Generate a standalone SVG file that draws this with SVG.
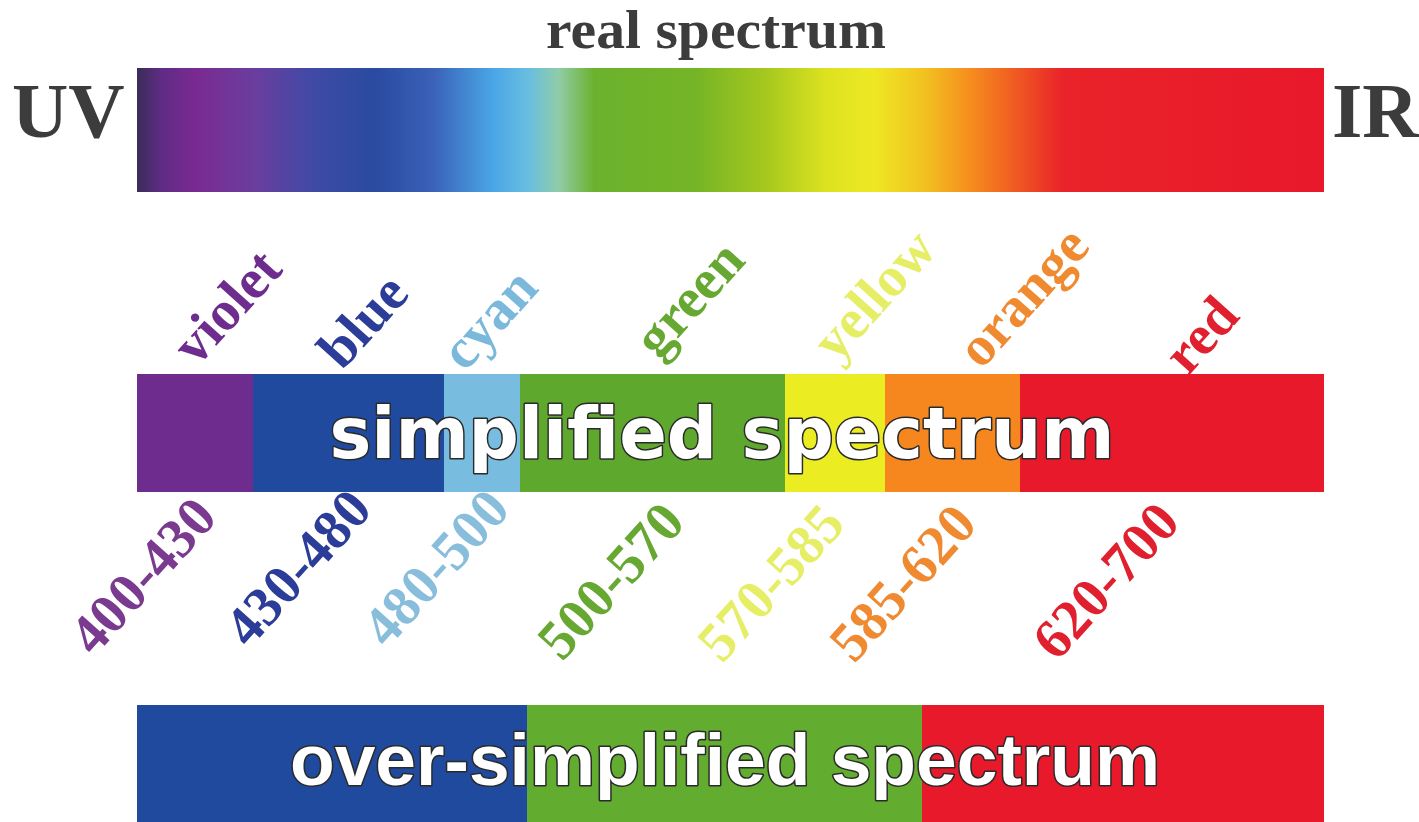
<svg xmlns="http://www.w3.org/2000/svg" width="1419" height="822" viewBox="0 0 1419 822">
<defs>
<linearGradient id="real" x1="137" y1="0" x2="1324" y2="0" gradientUnits="userSpaceOnUse">
<stop offset="0" stop-color="#3a2c58"/>
<stop offset="0.02" stop-color="#5e2c84"/>
<stop offset="0.05" stop-color="#7a2a92"/>
<stop offset="0.10" stop-color="#6a3e9e"/>
<stop offset="0.15" stop-color="#3e4aa6"/>
<stop offset="0.20" stop-color="#2a4aa0"/>
<stop offset="0.25" stop-color="#3a62b8"/>
<stop offset="0.30" stop-color="#4aa6e6"/>
<stop offset="0.33" stop-color="#68bee0"/>
<stop offset="0.355" stop-color="#90cca8"/>
<stop offset="0.385" stop-color="#6cb22e"/>
<stop offset="0.47" stop-color="#74b426"/>
<stop offset="0.53" stop-color="#a6c81e"/>
<stop offset="0.58" stop-color="#dce220"/>
<stop offset="0.62" stop-color="#eee824"/>
<stop offset="0.665" stop-color="#f2c020"/>
<stop offset="0.70" stop-color="#f6901e"/>
<stop offset="0.74" stop-color="#f05a22"/>
<stop offset="0.78" stop-color="#e9232a"/>
<stop offset="1" stop-color="#e8182a"/>
</linearGradient>
</defs>
<style>
.head{font-family:"Liberation Serif","Times New Roman",serif;font-weight:bold;fill:#3c3c3c}
.lbl{font-family:"Liberation Serif","Times New Roman",serif;font-weight:bold;font-size:56px;text-anchor:middle}
.bar{font-family:"DejaVu Sans","Liberation Sans",sans-serif;font-weight:bold;fill:#ffffff;stroke:#2a2a2a;stroke-width:3;paint-order:stroke;stroke-linejoin:round}
.bar2{font-family:"Liberation Sans",Arial,sans-serif;font-weight:bold;fill:#ffffff;stroke:#2a2a2a;stroke-width:3;paint-order:stroke;stroke-linejoin:round}
</style>
<rect width="1419" height="822" fill="#ffffff"/>

<g id="real-spectrum">
<text class="head" x="716" y="48" font-size="54" text-anchor="middle" textLength="340" lengthAdjust="spacingAndGlyphs">real spectrum</text>
<text class="head" x="12" y="137" font-size="78" fill="#505050">UV</text>
<rect x="137" y="68" width="1187" height="124" fill="url(#real)"/>
<text class="head" x="1332" y="137" font-size="78">IR</text>
</g>

<g id="color-names">
<text class="lbl" fill="#6e2d8e" dy="0.35em" transform="translate(226 306) rotate(-48)">violet</text>
<text class="lbl" fill="#2b3d98" dy="0.35em" transform="translate(362 320) rotate(-48)">blue</text>
<text class="lbl" fill="#7ab8dc" dy="0.35em" transform="translate(488 318) rotate(-48)">cyan</text>
<text class="lbl" fill="#66a832" dy="0.35em" transform="translate(688 298) rotate(-48)">green</text>
<text class="lbl" fill="#e6ee66" dy="0.35em" transform="translate(873 294) rotate(-48)">yellow</text>
<text class="lbl" fill="#f08a30" dy="0.35em" transform="translate(1022 296) rotate(-48)">orange</text>
<text class="lbl" fill="#e0202e" dy="0.35em" transform="translate(1200 334) rotate(-48)">red</text>
</g>

<g id="simplified-spectrum">
<rect x="137" y="374" width="116" height="118" fill="#6e2d8e"/>
<rect x="253" y="374" width="191" height="118" fill="#1f4a9e"/>
<rect x="444" y="374" width="76" height="118" fill="#78bde0"/>
<rect x="520" y="374" width="265" height="118" fill="#5fa82e"/>
<rect x="785" y="374" width="100" height="118" fill="#ecec22"/>
<rect x="885" y="374" width="135" height="118" fill="#f6871e"/>
<rect x="1020" y="374" width="304" height="118" fill="#e8192b"/>
<text class="bar" x="722" y="458" font-size="72" text-anchor="middle" textLength="785" lengthAdjust="spacingAndGlyphs">simplified spectrum</text>
</g>

<g id="ranges">
<text class="lbl" fill="#7a3a90" dy="0.35em" transform="translate(142 575) rotate(-48)">400-430</text>
<text class="lbl" fill="#2b3d98" dy="0.35em" transform="translate(297 567) rotate(-48)">430-480</text>
<text class="lbl" fill="#88bedc" dy="0.35em" transform="translate(435 567) rotate(-48)">480-500</text>
<text class="lbl" fill="#66a832" dy="0.35em" transform="translate(610 580) rotate(-48)">500-570</text>
<text class="lbl" fill="#e6ee66" dy="0.35em" transform="translate(770 582) rotate(-48)">570-585</text>
<text class="lbl" fill="#f08a30" dy="0.35em" transform="translate(902 582) rotate(-48)">585-620</text>
<text class="lbl" fill="#e0202e" dy="0.35em" transform="translate(1105 580) rotate(-48)">620-700</text>
</g>

<g id="over-simplified-spectrum">
<rect x="137" y="705" width="390" height="117" fill="#1f4a9e"/>
<rect x="527" y="705" width="395" height="117" fill="#62ad2f"/>
<rect x="922" y="705" width="402" height="117" fill="#e8192b"/>
<text class="bar2" x="725" y="785" font-size="72" text-anchor="middle" textLength="870" lengthAdjust="spacingAndGlyphs">over-simplified spectrum</text>
</g>

<g id="connectors"/>
</svg>
